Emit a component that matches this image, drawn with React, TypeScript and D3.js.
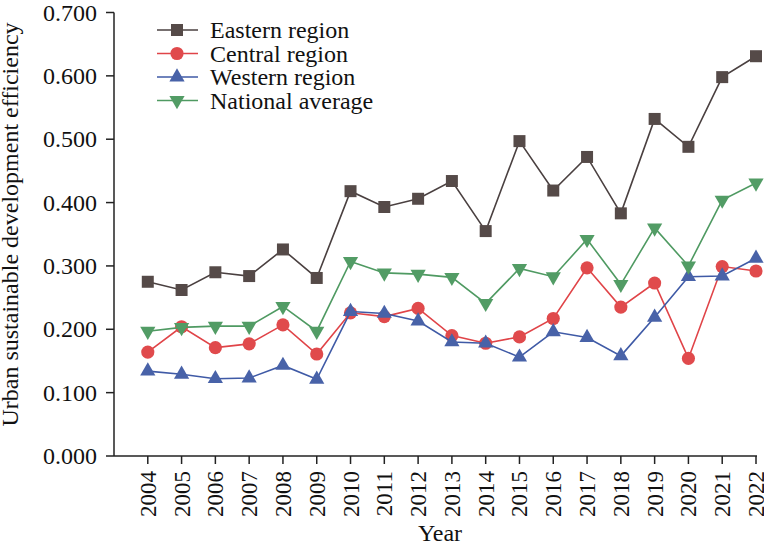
import * as d3 from "d3";

const years = [
  2004, 2005, 2006, 2007, 2008, 2009, 2010, 2011, 2012, 2013, 2014, 2015, 2016,
  2017, 2018, 2019, 2020, 2021, 2022,
];
const eastern = [
  0.275, 0.262, 0.29, 0.284, 0.326, 0.281, 0.418, 0.393, 0.406, 0.434, 0.355,
  0.497, 0.419, 0.472, 0.383, 0.532, 0.488, 0.598, 0.631,
];
const central = [
  0.164, 0.204, 0.171, 0.177, 0.207, 0.161, 0.226, 0.22, 0.233, 0.19, 0.178,
  0.188, 0.217, 0.297, 0.235, 0.273, 0.154, 0.299, 0.292,
];
const western = [
  0.134, 0.129, 0.122, 0.123, 0.143, 0.121, 0.228, 0.225, 0.213, 0.18, 0.178,
  0.156, 0.196, 0.187, 0.158, 0.219, 0.283, 0.284, 0.312,
];
const national = [
  0.197, 0.203, 0.205, 0.205, 0.236, 0.197, 0.307, 0.289, 0.287, 0.282, 0.241,
  0.296, 0.283, 0.342, 0.271, 0.36, 0.3, 0.404, 0.431,
];
const yTicks = [0, 0.1, 0.2, 0.3, 0.4, 0.5, 0.6, 0.7];

const series = [
  { name: "Eastern region", values: eastern, line: "#4a4040", fill: "#554a48", shape: "square" },
  { name: "Central region", values: central, line: "#e04448", fill: "#e04a4c", shape: "circle" },
  { name: "Western region", values: western, line: "#3f5aa6", fill: "#4862a8", shape: "up" },
  { name: "National average", values: national, line: "#4f9a62", fill: "#529c65", shape: "down" },
];

const FONT = "'Liberation Serif', 'DejaVu Serif', serif";
const AXIS = "#222";
const INK = "#111";

function markerPath(shape: string) {
  if (shape === "square") return d3.symbol(d3.symbolSquare, 144)() ?? "";
  if (shape === "circle") return d3.symbol(d3.symbolCircle, 136)() ?? "";
  return d3.symbol(d3.symbolTriangle, 100)() ?? "";
}

export default function App() {
  const width = 764;
  const height = 544;
  const x = d3.scaleLinear().domain([2003, 2022]).range([114, 756]);
  const y = d3.scaleLinear().domain([0, 0.7]).range([456, 12.5]);
  const fmt = d3.format(".3f");
  const textStyle = { fontFamily: FONT };

  return (
    <svg
      width={width}
      height={height}
      style={{ position: "absolute", left: 0, top: 0, background: "#fff" }}
    >
      {/* axes */}
      <line x1={x(2003)} x2={x(2003)} y1={y(0.7)} y2={y(0)} stroke={AXIS} strokeWidth={1.5} />
      <line x1={x(2003)} x2={x(2022) + 1} y1={y(0)} y2={y(0)} stroke={AXIS} strokeWidth={1.5} />
      {yTicks.map((t) => (
        <g key={t}>
          <line x1={x(2003) - 8} x2={x(2003)} y1={y(t)} y2={y(t)} stroke={AXIS} strokeWidth={1.5} />
          <text x={97} y={y(t) + 8} textAnchor="end" fontSize={24} fill={INK} style={textStyle}>
            {fmt(t)}
          </text>
        </g>
      ))}
      {years.map((yr) => (
        <g key={yr}>
          <line x1={x(yr)} x2={x(yr)} y1={y(0)} y2={y(0) + 8} stroke={AXIS} strokeWidth={1.5} />
          <text
            transform={`translate(${x(yr) + 8},471) rotate(-90)`}
            textAnchor="end"
            fontSize={23}
            fill={INK}
            style={textStyle}
          >
            {yr}
          </text>
        </g>
      ))}
      <text x={440} y={541} textAnchor="middle" fontSize={24} fill={INK} style={textStyle}>
        Year
      </text>
      <text
        transform={`translate(18,${(20 + 429) / 2}) rotate(-90)`}
        textAnchor="middle"
        fontSize={24}
        fill={INK}
        style={textStyle}
      >
        Urban sustainable development efficiency
      </text>

      {/* series */}
      {series.map((s) => {
        const path = d3
          .line<number>()
          .x((_, i) => x(years[i]))
          .y((v) => y(v))(s.values);
        const m = markerPath(s.shape);
        return (
          <g key={s.name}>
            <path d={path ?? ""} fill="none" stroke={s.line} strokeWidth={1.6} />
            {s.values.map((v, i) => (
              <path
                key={i}
                d={m}
                transform={`translate(${x(years[i])},${y(v)})${s.shape === "down" ? " rotate(180)" : ""}`}
                fill={s.fill}
              />
            ))}
          </g>
        );
      })}

      {/* legend */}
      {series.map((s, i) => {
        const ly = 30 + i * 23.5;
        return (
          <g key={s.name}>
            <line x1={157} x2={198} y1={ly} y2={ly} stroke={s.line} strokeWidth={1.6} />
            <path
              d={markerPath(s.shape)}
              transform={`translate(177,${ly})${s.shape === "down" ? " rotate(180)" : ""}`}
              fill={s.fill}
            />
            <text x={210} y={ly + 8} fontSize={24} fill={INK} style={textStyle}>
              {s.name}
            </text>
          </g>
        );
      })}
    </svg>
  );
}
